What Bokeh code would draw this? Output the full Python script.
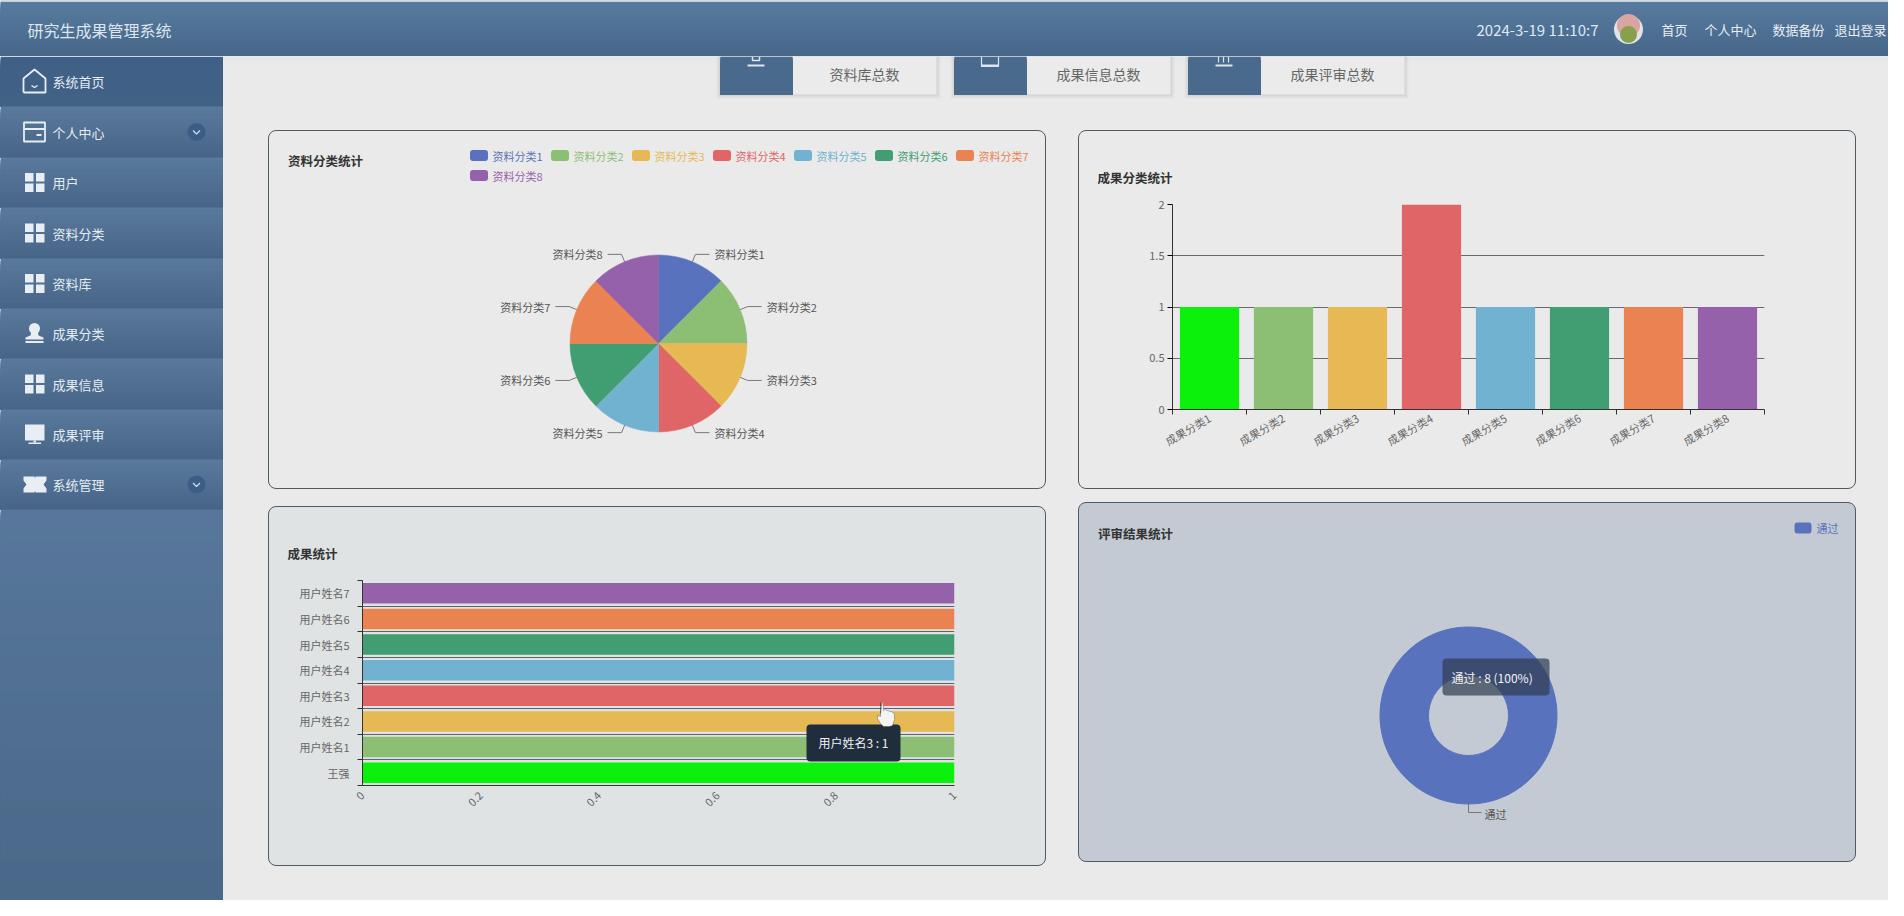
import numpy as np
from bokeh.core.properties import value
from bokeh.embed import file_html
from bokeh.layouts import column, row
from bokeh.models import BoxAnnotation, FixedTicker, Label, PolyAnnotation
from bokeh.plotting import figure
from bokeh.resources import INLINE

# chart data
palette = ["#5872bd", "#8cbf73", "#e6b955", "#e06567", "#70b2cf", "#419d72", "#ea8252", "#9661ab"]
first_bar_color = "#0cf10c"

material_names = ["资料分类1", "资料分类2", "资料分类3", "资料分类4", "资料分类5", "资料分类6", "资料分类7", "资料分类8"]
material_values = [1, 1, 1, 1, 1, 1, 1, 1]

result_names = ["成果分类1", "成果分类2", "成果分类3", "成果分类4", "成果分类5", "成果分类6", "成果分类7", "成果分类8"]
result_values = [1, 1, 1, 2, 1, 1, 1, 1]

user_names = ["王强", "用户姓名1", "用户姓名2", "用户姓名3", "用户姓名4", "用户姓名5", "用户姓名6", "用户姓名7"]
user_values = [1, 1, 1, 1, 1, 1, 1, 1]

review_names = ["通过"]
review_values = [8]

menu_names = ["系统首页", "个人中心", "用户", "资料分类", "资料库", "成果分类", "成果信息", "成果评审", "系统管理"]
card_names = ["资料库总数", "成果信息总数", "成果评审总数"]
header_links = ["首页", "个人中心", "数据备份", "退出登录"]

FONT = "Noto Sans CJK SC"
PAGE = "#eaeaea"
PANEL_W, PANEL_H = 778, 359
TEXT = "#666666"
W, H = 1888, 900


def lerp(c0, c1, t):
    a = [int(c0[i:i + 2], 16) for i in (1, 3, 5)]
    b = [int(c1[i:i + 2], 16) for i in (1, 3, 5)]
    return "#%02x%02x%02x" % tuple(int(round(u + (v - u) * t)) for u, v in zip(a, b))


def gradient(p, left, right, top, bottom, c0, c1):
    # every band runs down to the bottom so no page colour shows between rows
    rows = np.arange(top, bottom)
    colors = [lerp(c0, c1, i / max(len(rows) - 1, 1)) for i in range(len(rows))]
    p.quad(left=left, right=right, top=rows, bottom=bottom, fill_color=colors, line_color=None)


def blank(width, height, x_range, y_range, **kw):
    p = figure(width=width, height=height, x_range=x_range, y_range=y_range,
               x_axis_location=None, y_axis_location=None, tools="",
               toolbar_location=None, output_backend="svg", min_border=0,
               outline_line_color=None, background_fill_color=None,
               border_fill_color=PAGE, frame_align=False, **kw)
    p.grid.visible = False
    return p


def panel_styles(fill):
    return {"background-color": fill, "border": "1px solid #4f5b62", "border-radius": "8px"}


def text(p, x, y, s, size=13, color="#e4ecf2", align="left", style="normal"):
    p.text(x=[x], y=[y], text=[s], text_font=value(FONT), text_font_size=f"{size}px",
           text_color=color, text_align=align, text_baseline="middle", text_font_style=style)


def pie_panel(values, colors, fill, height, inner=0.0):
    cx, cy = 389, 212
    p = blank(PANEL_W, height, (-cx, PANEL_W - cx), (cy - height, cy))
    p.border_fill_color = None
    p.styles = panel_styles(fill)
    shares = np.array(values, dtype=float) / sum(values)
    ends = np.cumsum(shares)
    starts = ends - shares
    start_a = np.pi / 2 - 2 * np.pi * starts
    end_a = np.pi / 2 - 2 * np.pi * ends
    if len(values) == 1:
        end_a = end_a + 1e-4
    if inner:
        p.annular_wedge(x=0, y=0, inner_radius=inner, outer_radius=88.5, start_angle=start_a,
                        end_angle=end_a, direction="clock", fill_color=colors, line_color=colors)
    else:
        p.wedge(x=0, y=0, radius=88.5, start_angle=start_a, end_angle=end_a, direction="clock",
                fill_color=colors, line_color=colors, line_width=0.5)
    return p, (starts + ends) / 2, cx, cy


def add_pie_labels(p, names, mids):
    for name, mid in zip(names, mids):
        dx, dy = np.sin(2 * np.pi * mid), np.cos(2 * np.pi * mid)
        ex, ey = 88.5 * dx, 88.5 * dy
        kx, ky = 96.5 * dx, 96.5 * dy
        side = 1 if dx >= 0 else -1
        tx = kx + side * 14
        p.line(x=[ex, kx, tx], y=[ey, ky, ky], line_color="#777777", line_width=1)
        text(p, tx + side * 5, ky, name, 11, "#555555", "left" if side > 0 else "right")


def style_title(p, s):
    p.title.text = s
    p.title.text_font = FONT
    p.title.text_font_size = "12.5px"
    p.title.text_font_style = "bold"
    p.title.text_color = "#333333"
    p.title.align = "left"
    p.title.offset = -75
    p.title.standoff = 36


def style_axes(p):
    for ax in (p.xaxis, p.yaxis):
        ax.axis_line_color = "#333333"
        ax.major_label_text_font = FONT
        ax.major_label_text_font_size = "11px"
        ax.major_label_text_color = TEXT


# header
header = blank(W, 56, (0, W), (56, 0))
gradient(header, 0, W, 0, 56, "#587c9f", "#476689")
header.quad(left=0, right=W, top=0, bottom=1.5, fill_color="#c3d0db", line_color=None)
text(header, 27, 29, "研究生成果管理系统", 16, "#dde6ed")
text(header, 1476, 29, "2024-3-19 11:10:7", 15, "#dfe9f2")
header.scatter(x=[1628], y=[29], size=29, fill_color="#dfe3e4", line_color=None)
header.scatter(x=[1628], y=[25], size=23, fill_color="#d9a5a3", line_color=None)
header.scatter(x=[1628], y=[34], size=17, fill_color="#86a04c", line_color=None)
for s, x in zip(header_links, [1661, 1704, 1772, 1834]):
    text(header, x, 29, s, 13, "#e8eef3")

# sidebar
side = blank(223, H - 56, (0, 223), (H, 56))
edges = [56, 106, 157, 207, 258, 308, 358, 409, 459, 509]
for i, (t, b) in enumerate(zip(edges[:-1], edges[1:])):
    if i == 0:
        gradient(side, 0, 223, t, b, "#3f6086", "#426285")
    else:
        gradient(side, 0, 223, t, b, "#5a7a9c", "#476587")
gradient(side, 0, 223, 509, H, "#58779b", "#4a6888")
ICON = "#e8eef3"


def grid_icon(cy):
    xs = np.array([24.5, 35.5, 24.5, 35.5])
    ys = np.array([cy - 9.5, cy - 9.5, cy + 1, cy + 1])
    side.quad(left=xs, right=xs + 8.5, top=ys, bottom=ys + 8.5, fill_color=ICON, line_color=None)


centers = [(t + b) / 2 for t, b in zip(edges[:-1], edges[1:])]
for name, cy in zip(menu_names, centers):
    text(side, 52, cy, name, 13, "#e4ecf2")
for i in (2, 3, 4, 6):
    grid_icon(centers[i])
# home
c = centers[0]
side.line(x=[23, 23, 34, 45, 45, 23], y=[c + 11, c - 3, c - 12, c - 3, c + 11, c + 11],
          line_color=ICON, line_width=1.8)
side.line(x=[31, 34, 37], y=[c + 4, c + 6, c + 4], line_color=ICON, line_width=1.5)
# personal centre
c = centers[1]
side.quad(left=23.5, right=44.5, top=c - 9.5, bottom=c + 9.5, fill_color=None, line_color=ICON, line_width=1.8)
side.line(x=[23.5, 44.5], y=[c - 3, c - 3], line_color=ICON, line_width=1.8)
side.line(x=[36, 41], y=[c + 3, c + 3], line_color=ICON, line_width=1.8)
# stamp
c = centers[5]
side.scatter(x=[34], y=[c - 5], size=11, fill_color=ICON, line_color=None)
side.patch(x=[31, 37, 38, 43, 43, 25, 25, 30], y=[c - 3, c - 3, c + 2, c + 4, c + 6, c + 6, c + 4, c + 2],
           fill_color=ICON, line_color=None)
side.quad(left=25, right=43, top=c + 7.5, bottom=c + 9.5, fill_color=ICON, line_color=None)
# monitor
c = centers[7]
side.quad(left=24.5, right=44, top=c - 10, bottom=c + 6, fill_color=ICON, line_color=None)
side.quad(left=28, right=40.5, top=c + 8, bottom=c + 9.5, fill_color=ICON, line_color=None)
side.quad(left=33, right=35.5, top=c + 6, bottom=c + 8, fill_color=ICON, line_color=None)
# ticket
c = centers[8]
side.patch(x=[23, 34, 34.5, 35, 46, 46, 43, 46, 46, 35, 34.5, 34, 23, 23, 26, 23],
           y=[c - 8, c - 8, c - 6, c - 8, c - 8, c - 4, c, c + 4, c + 8, c + 8, c + 6, c + 8, c + 8, c + 4, c, c - 4],
           fill_color=ICON, line_color=None)
for cy in (centers[1], centers[8]):
    side.scatter(x=[196], y=[cy], size=18, fill_color="#3c5d85", line_color=None)
    side.line(x=[192.5, 196, 199.5], y=[cy - 1.5, cy + 2, cy - 1.5], line_color="#d4dee8", line_width=1.2)

# stat cards
cards = blank(W - 223, 74, (223, W), (130, 56))
gradient(cards, 223, W, 56, 62, "#e2e5e8", PAGE)
for name, left in zip(card_names, [720, 954, 1188]):
    for grow, alpha in [(4, 0.03), (3, 0.03), (2, 0.04), (1, 0.05)]:
        cards.quad(left=left - grow, right=left + 216 + grow, top=56, bottom=94 + grow,
                   fill_color="#555555", fill_alpha=alpha, line_color=None)
    cards.quad(left=left + 72, right=left + 216, top=56, bottom=94, fill_color="#ebebeb", line_color=None)
    gradient(cards, left, left + 72, 56, 94, "#4a6a8d", "#4a6a8d")
    text(cards, left + 144, 73, name, 14, TEXT, "center")
cards.quad(left=[747, 981, 1215], right=[764, 998, 1232], top=[64, 64, 64], bottom=[66, 66, 66],
           fill_color="#dde6ed", line_color=None)
cards.line(x=[981, 981, 998, 998], y=[56, 66, 66, 56], line_color="#dde6ed", line_width=1.2)
cards.line(x=[752, 752, 759, 759], y=[56, 60, 60, 56], line_color="#dde6ed", line_width=1.5)
for x in (1218, 1223, 1228):
    cards.line(x=[x, x], y=[56, 62], line_color="#dde6ed", line_width=1.2)

# material pie
p1, mids, cx1, cy1 = pie_panel(material_values, palette, PAGE, PANEL_H)
add_pie_labels(p1, material_names, mids)
text(p1, 18.5 - cx1, cy1 - 29, "资料分类统计", 12.5, "#333333", style="bold")
for i, (name, color) in enumerate(zip(material_names, palette)):
    lx = 200.5 + 81 * (i % 7)
    ly = 24 + 20 * (i // 7)
    p1.quad(left=lx - cx1, right=lx + 18 - cx1, top=cy1 - ly + 5.5, bottom=cy1 - ly - 5.5,
            fill_color=color, line_color=None, border_radius=3)
    text(p1, lx + 22.5 - cx1, cy1 - ly, name, 11, color)
p1.margin = (0, 32, 0, 45)

# result bars
p2 = figure(width=PANEL_W, height=PANEL_H, x_range=(0, len(result_values)), y_range=(0, 2),
            tools="", toolbar_location=None, output_backend="svg", outline_line_color=None,
            background_fill_color=None, border_fill_color=None, frame_align=False,
            min_border_left=93, min_border_right=93, min_border_top=73, min_border_bottom=81,
            styles=panel_styles(PAGE))
style_title(p2, "成果分类统计")
positions = np.arange(len(result_values)) + 0.5
p2.vbar(x=positions, top=result_values, width=0.8, bottom=0,
        fill_color=[first_bar_color] + palette[1:], line_color=None)
p2.xgrid.visible = False
p2.ygrid.grid_line_color = "#6a6a6a"
p2.yaxis.ticker = FixedTicker(ticks=[0, 0.5, 1, 1.5, 2])
p2.yaxis.major_label_overrides = {0: "0", 0.5: "0.5", 1: "1", 1.5: "1.5", 2: "2"}
p2.xaxis.ticker = FixedTicker(ticks=list(positions), minor_ticks=list(range(len(result_values) + 1)))
p2.xaxis.major_label_overrides = {float(x): n for x, n in zip(positions, result_names)}
p2.xaxis.major_label_orientation = np.pi / 6
p2.xaxis.major_tick_line_color = None
p2.xaxis.major_tick_out = 0
p2.xaxis.minor_tick_line_color = "#333333"
p2.xaxis.minor_tick_out = 5
p2.xaxis.minor_tick_in = 0
p2.xaxis.major_label_standoff = 2
p2.yaxis.minor_tick_line_color = None
p2.yaxis.major_tick_in = 0
p2.yaxis.major_tick_out = 5
p2.yaxis.major_label_standoff = 3
style_axes(p2)

# user bars
p3 = figure(width=PANEL_W, height=360, x_range=(0, 1), y_range=(0, len(user_values)),
            tools="", toolbar_location=None, output_backend="svg", outline_line_color=None,
            background_fill_color=None, border_fill_color=None, frame_align=False,
            min_border_left=93, min_border_right=93, min_border_top=73, min_border_bottom=82,
            margin=(17, 32, 0, 45), styles=panel_styles("#dfe3e4"))
style_title(p3, "成果统计")
rows = np.arange(len(user_values)) + 0.5
p3.hbar(y=rows, right=user_values, left=0, height=0.8,
        fill_color=[first_bar_color] + palette[1:], line_color=None)
p3.xgrid.visible = False
p3.ygrid.grid_line_color = "#5e646a"
p3.ygrid.ticker = FixedTicker(ticks=list(range(len(user_values) + 1)))
p3.yaxis.ticker = FixedTicker(ticks=list(rows), minor_ticks=list(range(len(user_values) + 1)))
p3.yaxis.major_label_overrides = {float(y): n for y, n in zip(rows, user_names)}
p3.yaxis.major_tick_line_color = None
p3.yaxis.major_tick_out = 0
p3.yaxis.minor_tick_line_color = "#333333"
p3.yaxis.minor_tick_out = 5
p3.yaxis.minor_tick_in = 0
p3.yaxis.major_label_standoff = 8
p3.xaxis.ticker = FixedTicker(ticks=[0, 0.2, 0.4, 0.6, 0.8, 1])
p3.xaxis.major_label_overrides = {0: "0", 0.2: "0.2", 0.4: "0.4", 0.6: "0.6", 0.8: "0.8", 1: "1"}
p3.xaxis.major_label_orientation = np.pi / 4
p3.xaxis.major_tick_line_color = None
p3.xaxis.minor_tick_line_color = None
p3.xaxis.major_label_standoff = 2
style_axes(p3)
p3.add_layout(BoxAnnotation(left=536, right=630, top=216, bottom=253, left_units="canvas",
                            right_units="canvas", top_units="canvas", bottom_units="canvas",
                            fill_color="#1f2d3d", fill_alpha=1, line_color=None, border_radius=4,
                            level="overlay", editable=False))
p3.add_layout(Label(x=548, y=234, x_units="canvas", y_units="canvas",
                    text=f"{user_names[3]} : {user_values[3]}", text_font=FONT, text_font_size="12px",
                    text_color="#f0f2f4", text_baseline="middle", level="overlay"))
hx = 607
hy = 193
p3.add_layout(PolyAnnotation(xs=[hx + v for v in [3, 3, 5, 6, 6, 8, 9, 11, 12, 14, 15, 17, 17, 15, 12, 6, 3, 0, 0, 3]],
                             ys=[hy + v for v in [1, 12, 0, 1, 9, 8, 9, 9, 10, 10, 11, 12, 18, 24, 25, 25, 22, 17, 14, 15]],
                             xs_units="canvas", ys_units="canvas", fill_color="#f4f4f4", fill_alpha=1,
                             line_color="#222222", line_width=1, level="overlay", editable=False))

# review donut
p4, mids4, cx4, cy4 = pie_panel(review_values, palette[:1], "#c3cad3", PANEL_H + 1, inner=40)
text(p4, 18.5 - cx4, cy4 - 30, "评审结果统计", 12.5, "#333333", style="bold")
p4.line(x=[0, 0, 13], y=[-88.5, -97, -97], line_color="#777777", line_width=1)
text(p4, 16, -98, review_names[0], 11, "#555555")
p4.quad(left=715 - cx4, right=732 - cx4, top=cy4 - 19, bottom=cy4 - 30,
        fill_color=palette[0], line_color=None, border_radius=3)
text(p4, 737 - cx4, cy4 - 24, review_names[0], 11, palette[0])
p4.quad(left=-26, right=81, top=57, bottom=20, fill_color="#2f3c50", fill_alpha=0.7, line_color=None, border_radius=4)
share_label = f"{review_names[0]} : {review_values[0]} ({round(100 * review_values[0] / sum(review_values))}%)"
text(p4, -17, 38, share_label, 12, "#f0f2f4")
p4.margin = (13, 0, 0, 0)

content = column(cards, row(p1, p2), row(p3, p4), width=W - 223, height=H - 56,
                 styles={"background-color": PAGE})
p = column(header, row(side, content))

open("out.html", "w").write(file_html(p, INLINE))
